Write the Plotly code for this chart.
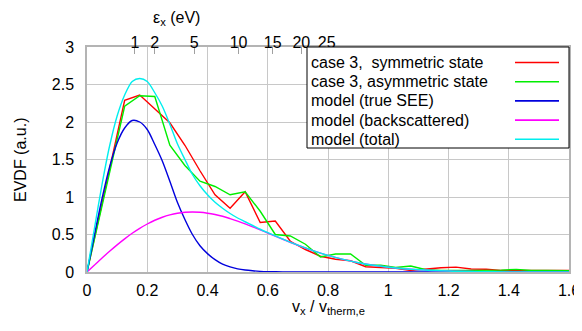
import numpy as np
import plotly.graph_objects as go

# ---------------- data ----------------
V_DATA = [0.0, 0.025, 0.075, 0.125, 0.175, 0.225, 0.275, 0.325, 0.375, 0.425,
          0.475, 0.525, 0.575, 0.625, 0.675, 0.725, 0.775, 0.825, 0.875, 0.925,
          0.975, 1.025, 1.075, 1.125, 1.175, 1.225, 1.275, 1.325, 1.375, 1.425,
          1.475, 1.525, 1.575, 1.625]
SYM_STATE = [0.0, 0.46, 1.37, 2.29, 2.36, 2.17, 1.99, 1.69, 1.35, 1.03,
             0.85, 1.07, 0.66, 0.68, 0.41, 0.30, 0.21, 0.17, 0.15, 0.07,
             0.06, 0.05, 0.02, 0.04, 0.056, 0.065, 0.04, 0.037, 0.02, 0.02,
             0.02, 0.01, 0.02, 0.02]
ASYM_STATE = [0.0, 0.45, 1.33, 2.21, 2.35, 2.34, 1.69, 1.42, 1.21, 1.14,
              1.03, 1.07, 0.81, 0.50, 0.48, 0.37, 0.20, 0.24, 0.24, 0.09,
              0.09, 0.06, 0.08, 0.03, 0.02, 0.02, 0.02, 0.02, 0.025, 0.035,
              0.02, 0.02, 0.015, 0.015]

V_MODEL = [0.0, 0.025, 0.05, 0.075, 0.1, 0.125, 0.15, 0.175, 0.2, 0.225,
           0.25, 0.275, 0.3, 0.325, 0.35, 0.375, 0.4, 0.425, 0.45, 0.475,
           0.5, 0.525, 0.55, 0.575, 0.6, 0.65, 0.7, 0.75, 0.8, 0.85,
           0.9, 0.95, 1.0, 1.1, 1.2, 1.3, 1.4, 1.5, 1.6]
TRUE_SEE = [0.0, 0.50, 0.98, 1.40, 1.72, 1.92, 2.02, 2.00, 1.90, 1.70,
            1.48, 1.21, 0.93, 0.70, 0.50, 0.35, 0.245, 0.165, 0.105, 0.068,
            0.042, 0.026, 0.016, 0.009, 0.005, 0.002, 0.0005, 0.0, 0.0, 0.0,
            0.0, 0.0, 0.0, 0.0, 0.0, 0.0, 0.0, 0.0, 0.0]
BACKSCAT = [0.0, 0.094, 0.187, 0.276, 0.362, 0.442, 0.516, 0.582, 0.64, 0.69,
            0.73, 0.761, 0.783, 0.796, 0.80, 0.796, 0.784, 0.766, 0.743, 0.712,
            0.679, 0.642, 0.603, 0.562, 0.52, 0.437, 0.357, 0.285, 0.221, 0.168,
            0.124, 0.090, 0.064, 0.030, 0.0127, 0.005, 0.0017, 0.0005, 0.0001]
TOTAL = [0.0, 0.59, 1.17, 1.68, 2.08, 2.36, 2.54, 2.58, 2.54, 2.39,
         2.21, 1.97, 1.71, 1.50, 1.30, 1.15, 1.03, 0.93, 0.85, 0.78,
         0.72, 0.67, 0.62, 0.57, 0.525, 0.439, 0.358, 0.285, 0.221, 0.168,
         0.124, 0.090, 0.064, 0.030, 0.0127, 0.005, 0.0017, 0.0005, 0.0001]

ENERGY_TICKS = [1, 2, 5, 10, 15, 20, 25]   # eV, top axis
T_SCALE_EV = 39.5                           # eps_x = T * (v_x/v_th)^2

LEGEND_LABELS = ["case 3,\u00a0 symmetric state", "case 3, asymmetric state",
                 "model (true SEE)", "model (backscattered)", "model (total)"]
COLORS = ["#ff0000", "#00ee00", "#0000dd", "#ff00ff", "#00eeee"]

FONT = "Liberation Sans, Arial, Helvetica, sans-serif"
FS = 16

fig = go.Figure()
fig.add_trace(go.Scatter(x=V_DATA, y=SYM_STATE, mode="lines",
                         line=dict(color=COLORS[0], width=1.4)))
fig.add_trace(go.Scatter(x=V_DATA, y=ASYM_STATE, mode="lines",
                         line=dict(color=COLORS[1], width=1.4)))
fig.add_trace(go.Scatter(x=V_MODEL, y=TRUE_SEE, mode="lines",
                         line=dict(color=COLORS[2], width=1.4, shape="spline", smoothing=0.8)))
fig.add_trace(go.Scatter(x=V_MODEL, y=BACKSCAT, mode="lines",
                         line=dict(color=COLORS[3], width=1.4, shape="spline", smoothing=0.8)))
fig.add_trace(go.Scatter(x=V_MODEL, y=TOTAL, mode="lines",
                         line=dict(color=COLORS[4], width=1.4, shape="spline", smoothing=0.8)))
# invisible trace so that the top (energy) axis is drawn
fig.add_trace(go.Scatter(x=V_MODEL, y=TOTAL, xaxis="x2", mode="lines",
                         line=dict(width=0), opacity=0, hoverinfo="skip"))

top_vals = [float(np.sqrt(e / T_SCALE_EV)) for e in ENERGY_TICKS]

# the page body adds an 8px offset; plot area on screen: x 87..569, y 47..272
fig.update_layout(
    width=582, height=331,
    margin=dict(l=79, r=21, t=39, b=67, autoexpand=False),
    paper_bgcolor="white", plot_bgcolor="white",
    showlegend=False,
    font=dict(family=FONT, size=FS, color="black"),
    xaxis=dict(range=[0, 1.6], tick0=0, dtick=0.2, showgrid=True,
               gridcolor="#c8c8c8", gridwidth=1, zeroline=False,
               showline=True, linecolor="#b4b4b4", linewidth=1.5, mirror=True,
               ticks="outside", ticklen=3, tickcolor="rgba(0,0,0,0)",
               layer="below traces", automargin=False),
    yaxis=dict(range=[0, 3], tick0=0, dtick=0.5, showgrid=True,
               gridcolor="#c8c8c8", gridwidth=1, zeroline=False,
               showline=True, linecolor="#b4b4b4", linewidth=1.5, mirror=True,
               ticks="outside", ticklen=8, tickcolor="rgba(0,0,0,0)",
               layer="below traces", automargin=False),
    xaxis2=dict(overlaying="x", side="top", range=[0, 1.6],
                tickmode="array", tickvals=top_vals,
                ticktext=[str(e) for e in ENERGY_TICKS],
                ticks="inside", ticklen=7, tickcolor="#a0a0a0", tickwidth=1,
                ticklabelstandoff=-5,
                showgrid=False, zeroline=False, showline=False,
                automargin=False),
)

# plot-area geometry in screen pixels (for paper-coordinate placement of texts)
PX_L, PX_R, PX_T, PX_B = 87, 569, 47, 272


def px_to_paper(xp, yp):
    return (xp - PX_L) / (PX_R - PX_L), (PX_B - yp) / (PX_B - PX_T)


ann = []
# axis titles
x, y = px_to_paper(0, 307)
ann.append(dict(text="v<sub>x</sub> / v<sub>therm,e</sub>", x=0.5, y=y,
                xref="paper", yref="paper", showarrow=False,
                xanchor="center", yanchor="middle"))
x, y = px_to_paper(20, 160)
ann.append(dict(text="EVDF (a.u.)", x=x, y=y, xref="paper", yref="paper",
                showarrow=False, textangle=-90, xanchor="center", yanchor="middle"))
x, y = px_to_paper(176, 18)
ann.append(dict(text="ε<sub>x</sub> (eV)", x=x, y=y, xref="paper", yref="paper",
                showarrow=False, xanchor="center", yanchor="middle"))

shapes = []
# legend box
bx0, by0 = px_to_paper(307, 148)
shapes.append(dict(type="rect", xref="paper", yref="paper", x0=bx0, x1=1.0,
                   y0=by0, y1=1.0, fillcolor="white",
                   line=dict(color="black", width=1), layer="above"))
for i, (lab, col) in enumerate(zip(LEGEND_LABELS, COLORS)):
    yy = 62.5 + 19.2 * i
    tx, ty = px_to_paper(309, yy)
    ann.append(dict(text=lab, x=tx, y=ty, xref="paper", yref="paper",
                    showarrow=False, xanchor="left", yanchor="middle"))
    lx0, ly = px_to_paper(515, yy)
    lx1, _ = px_to_paper(559, yy)
    shapes.append(dict(type="line", xref="paper", yref="paper", x0=lx0, x1=lx1,
                       y0=ly, y1=ly, line=dict(color=col, width=1.6), layer="above"))

fig.update_layout(annotations=ann, shapes=shapes)
fig.write_html("out.html")
